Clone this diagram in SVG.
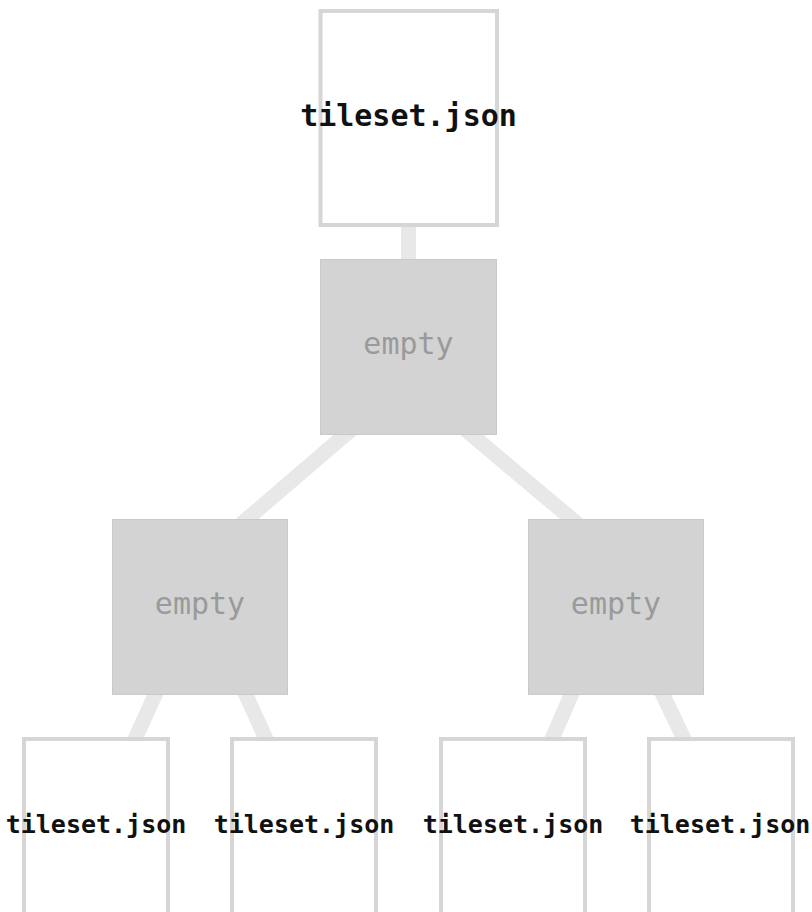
<svg xmlns="http://www.w3.org/2000/svg" width="812" height="912" viewBox="0 0 812 912">
<style>
.conn{stroke:#e8e8e8;stroke-width:15;fill:none}
.file{fill:#ffffff;stroke:#d6d6d6;stroke-width:4}
.empty{fill:#d3d3d3;stroke:#c9c9c9;stroke-width:1}
.ft{font-family:"DejaVu Sans Mono","Liberation Mono",monospace;font-weight:bold;fill:#111;text-anchor:middle}
.et{font-family:"DejaVu Sans Mono","Liberation Mono",monospace;font-size:30px;fill:#9a9a9a;text-anchor:middle}
</style>
<rect width="812" height="912" fill="#ffffff"/>
<g id="connectors">
<line class="conn" x1="408.5" y1="220" x2="408.5" y2="265"/>
<line class="conn" x1="350.8" y1="430" x2="241.2" y2="524"/>
<line class="conn" x1="465.8" y1="430" x2="577.7" y2="524"/>
<line class="conn" x1="157.3" y1="690" x2="133.7" y2="742"/>
<line class="conn" x1="243.6" y1="690" x2="267.4" y2="742"/>
<line class="conn" x1="573.3" y1="690" x2="550.7" y2="742"/>
<line class="conn" x1="660.6" y1="690" x2="685.4" y2="742"/>
</g>
<g id="root">
<rect class="file" x="320.5" y="11" width="176.5" height="214"/>
<text class="ft" x="408.5" y="126" font-size="30">tileset.json</text>
</g>
<g id="empty-mid">
<rect class="empty" x="320.5" y="259.5" width="176" height="175"/>
<text class="et" x="408.5" y="354">empty</text>
</g>
<g id="empty-left">
<rect class="empty" x="112.5" y="519.5" width="175" height="175"/>
<text class="et" x="200" y="614">empty</text>
</g>
<g id="empty-right">
<rect class="empty" x="528.5" y="519.5" width="175" height="175"/>
<text class="et" x="616" y="614">empty</text>
</g>
<g id="leaf1">
<rect class="file" x="24" y="739" width="144" height="200"/>
<text class="ft" x="96" y="833" font-size="25">tileset.json</text>
</g>
<g id="leaf2">
<rect class="file" x="232" y="739" width="144" height="200"/>
<text class="ft" x="304" y="833" font-size="25">tileset.json</text>
</g>
<g id="leaf3">
<rect class="file" x="441" y="739" width="144" height="200"/>
<text class="ft" x="513" y="833" font-size="25">tileset.json</text>
</g>
<g id="leaf4">
<rect class="file" x="649" y="739" width="144" height="200"/>
<text class="ft" x="720" y="833" font-size="25">tileset.json</text>
</g>
</svg>
